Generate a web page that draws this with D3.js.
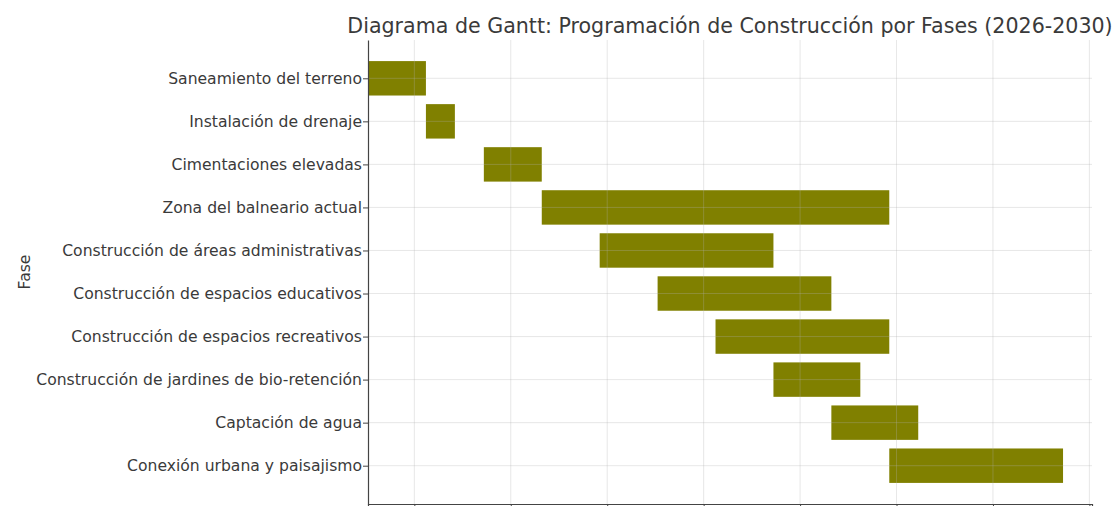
<!DOCTYPE html>
<html>
<head>
<meta charset="utf-8">
<script src="https://cdn.jsdelivr.net/npm/d3@7"></script>
<style>
  body { margin: 0; background: #fff; overflow: hidden; }
  text { font-family: "DejaVu Sans", sans-serif; }
</style>
</head>
<body>
<div id="graphic"></div>
<script>
// Phases, start (in periods) and duration (in periods)
const fases = [
    "Saneamiento del terreno",
    "Instalación de drenaje",
    "Cimentaciones elevadas",
    "Zona del balneario actual",
    "Construcción de áreas administrativas",
    "Construcción de espacios educativos",
    "Construcción de espacios recreativos",
    "Construcción de jardines de bio-retención",
    "Captación de agua",
    "Conexión urbana y paisajismo"
];
const inicios = [0, 2, 4, 6, 8, 10, 12, 14, 16, 18];
const duraciones = [2, 1, 2, 12, 6, 6, 6, 3, 3, 6];
// positions of the vertical grid lines (the tick labels are cut off in the picture)
const xTicks = [1.6, 4.93, 8.26, 11.59, 14.92, 18.25, 21.58, 24.91];

const svgWidth = 1115;
const svgHeight = 506;
const plotLeft = 368, plotRight = 1092, plotTop = 40, plotBottom = 504;

const svg = d3.select("#graphic")
    .append("svg")
    .attr("width", svgWidth)
    .attr("height", svgHeight);

const x = d3.scaleLinear()
    .domain([0, 25])
    .range([plotLeft, plotRight]);

const y = d3.scaleLinear()
    .domain([-0.89, fases.length - 1 + 0.89])
    .range([plotTop, plotBottom]);

const barH = y(0.8) - y(0);

// Bars
svg.selectAll(".bar")
    .data(fases)
    .enter()
    .append("rect")
    .attr("class", "bar")
    .attr("x", (d, i) => x(inicios[i]))
    .attr("y", (d, i) => y(i) - barH / 2)
    .attr("width", (d, i) => x(inicios[i] + duraciones[i]) - x(inicios[i]))
    .attr("height", barH)
    .attr("fill", "#808000");

// Grid (drawn over the bars, semi-transparent)
const grid = svg.append("g").attr("class", "grid");
grid.selectAll(".vgrid")
    .data(xTicks)
    .enter()
    .append("line")
    .attr("x1", d => x(d)).attr("x2", d => x(d))
    .attr("y1", plotTop).attr("y2", plotBottom)
    .attr("stroke", "#b0b0b0")
    .attr("stroke-opacity", 0.3);
grid.selectAll(".hgrid")
    .data(fases)
    .enter()
    .append("line")
    .attr("x1", plotLeft).attr("x2", plotRight)
    .attr("y1", (d, i) => y(i)).attr("y2", (d, i) => y(i))
    .attr("stroke", "#b0b0b0")
    .attr("stroke-opacity", 0.3);

// X axis
const xAxis = svg.append("g")
    .attr("transform", "translate(0," + plotBottom + ")")
    .call(d3.axisBottom(x).tickValues(xTicks).tickSize(5).tickFormat(""));
xAxis.select(".domain").attr("stroke", "#444").attr("stroke-width", 1.2);
xAxis.selectAll(".tick line").attr("stroke", "#444");

// Y axis
const yAxis = svg.append("g")
    .attr("transform", "translate(" + plotLeft + ",0)")
    .call(d3.axisLeft(y)
        .tickValues(d3.range(fases.length))
        .tickFormat(i => fases[i])
        .tickSize(5)
        .tickPadding(1)
        .tickSizeOuter(0));
yAxis.select(".domain").attr("stroke", "#444").attr("stroke-width", 1.2);
yAxis.selectAll(".tick line").attr("stroke", "#444");
yAxis.selectAll(".tick text")
    .attr("fill", "#3a3a3a")
    .style("font-size", "15.6px")
    .style("font-family", "'DejaVu Sans', sans-serif");

// Axis label
svg.append("text")
    .attr("transform", "translate(30," + ((plotTop + plotBottom) / 2) + ") rotate(-90)")
    .attr("text-anchor", "middle")
    .attr("fill", "#3a3a3a")
    .style("font-size", "15.6px")
    .text("Fase");

// Title
svg.append("text")
    .attr("x", (plotLeft + plotRight) / 2)
    .attr("y", 33)
    .attr("text-anchor", "middle")
    .attr("fill", "#3a3a3a")
    .style("font-size", "20.6px")
    .text("Diagrama de Gantt: Programación de Construcción por Fases (2026-2030)");
</script>
</body>
</html>
